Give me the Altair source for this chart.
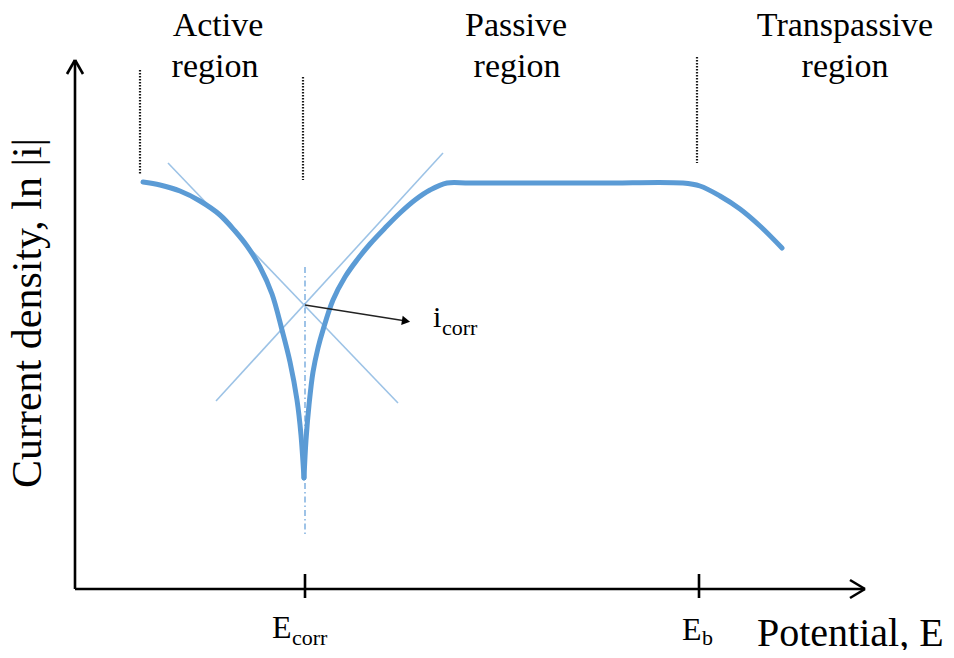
import altair as alt
import pandas as pd

# ---- data (x: potential offset from the axis origin, y: ln|i| offset) ----
cath_E = [68, 85, 105, 125, 145, 160, 172, 185, 197, 207, 215, 222, 226, 229]
cath_I = [407, 404, 398, 388, 374, 358, 343, 322, 295, 259, 227, 189, 154, 111]
anod_E = [229, 231, 234, 238, 243, 248, 258, 270, 282, 295, 310, 325, 340, 355, 372, 395,
          525, 608, 625, 645, 665, 685, 707]
anod_I = [111, 149, 184, 217, 241, 259, 289, 312, 329, 345, 361, 376, 389, 399, 406, 406,
          406, 406, 403, 393, 380, 363, 341]

# Tafel tangent lines
tafel_x1 = [93, 141]
tafel_y1 = [426, 188]
tafel_x2 = [323, 368]
tafel_y2 = [186, 436]

# Ecorr dash-dot guide
guide_x = [230]
guide_y1 = [322]
guide_y2 = [52]

# dotted region separators
sep_x = [65, 228, 622]
sep_y1 = [519, 512, 532]
sep_y2 = [414, 409, 426]

# axes, arrowheads, ticks
ax_x1 = [0, -8, 8, 0, 775, 775, 230, 624]
ax_y1 = [0, 515, 515, 0, 9, -9, 15, 15]
ax_x2 = [0, 0, 0, 790, 790, 790, 230, 624]
ax_y2 = [529, 529, 529, 0, 0, 0, -9, -9]

# icorr pointer
ptr_x1 = [230]
ptr_y1 = [284]
ptr_x2 = [331]
ptr_y2 = [268]

# texts
region_text = ["Active", "region", "Passive", "region", "Transpassive", "region"]
region_x = [143, 140, 441, 442, 770, 770]
region_y = [553, 512, 553, 512, 553, 512]

lab_text = ["E", "corr", "E", "b", "Potential, E", "i", "corr"]
lab_x = [197, 217, 607, 627, 682, 358, 367]
lab_y = [-49, -56, -51, -56, -57, 262, 254]
lab_size = [32, 22, 32, 22, 40, 30, 22]

ylab_text = ["Current density, ln |i|"]
ylab_x = [-47]
ylab_y = [276]

XS = alt.Scale(domain=[-67, 871], nice=False, zero=False)
YS = alt.Scale(domain=[-61, 581], nice=False, zero=False)
FONT = "Liberation Serif"

curve = pd.DataFrame(
    {"E": cath_E + anod_E,
     "I": cath_I + anod_I,
     "branch": ["cathodic"] * len(cath_E) + ["anodic"] * len(anod_E),
     "order": list(range(len(cath_E))) + list(range(len(anod_E)))}
)

def seg_df(x1, y1, x2, y2):
    return pd.DataFrame({"x": x1, "y": y1, "x2": x2, "y2": y2})

def seg_layer(df, color, width, dash=None):
    kw = dict(color=color, strokeWidth=width)
    if dash:
        kw["strokeDash"] = dash
    return alt.Chart(df).mark_rule(**kw).encode(
        x=alt.X("x:Q", scale=XS, axis=None),
        y=alt.Y("y:Q", scale=YS, axis=None),
        x2="x2:Q",
        y2="y2:Q",
    )

tafel = seg_layer(seg_df(tafel_x1, tafel_y1, tafel_x2, tafel_y2), "#9dc3e6", 1.6)
guide = seg_layer(seg_df(guide_x, guide_y1, guide_x, guide_y2), "#7fb0df", 1.5, [6, 3, 1.5, 3])
seps = seg_layer(seg_df(sep_x, sep_y1, sep_x, sep_y2), "#1a1a1a", 2.2, [1.6, 1.4])
axes = seg_layer(seg_df(ax_x1, ax_y1, ax_x2, ax_y2), "black", 2.6)
pointer = seg_layer(seg_df(ptr_x1, ptr_y1, ptr_x2, ptr_y2), "#222222", 1.3)

head = alt.Chart(pd.DataFrame({"x": ptr_x2, "y": ptr_y2})).mark_point(
    shape="triangle-right", filled=True, color="black", size=90, angle=9, opacity=1
).encode(x=alt.X("x:Q", scale=XS, axis=None), y=alt.Y("y:Q", scale=YS, axis=None))

line = alt.Chart(curve).mark_line(
    color="#5b9bd5", strokeWidth=5, interpolate="catmull-rom", strokeCap="round"
).encode(
    x=alt.X("E:Q", scale=XS, axis=None),
    y=alt.Y("I:Q", scale=YS, axis=None),
    detail="branch:N",
    order="order:Q",
)

regions = alt.Chart(pd.DataFrame({"x": region_x, "y": region_y, "t": region_text})).mark_text(
    font=FONT, fontSize=34, align="center", baseline="alphabetic", color="black"
).encode(x=alt.X("x:Q", scale=XS, axis=None), y=alt.Y("y:Q", scale=YS, axis=None), text="t:N")

labels = alt.Chart(pd.DataFrame({"x": lab_x, "y": lab_y, "t": lab_text, "s": lab_size})).mark_text(
    font=FONT, align="left", baseline="alphabetic", color="black"
).encode(
    x=alt.X("x:Q", scale=XS, axis=None),
    y=alt.Y("y:Q", scale=YS, axis=None),
    text="t:N",
    size=alt.Size("s:Q", scale=None, legend=None),
)

ylab = alt.Chart(pd.DataFrame({"x": ylab_x, "y": ylab_y, "t": ylab_text})).mark_text(
    font=FONT, fontSize=42, align="center", baseline="middle", angle=270, color="black"
).encode(x=alt.X("x:Q", scale=XS, axis=None), y=alt.Y("y:Q", scale=YS, axis=None), text="t:N")

chart = alt.layer(
    tafel, guide, seps, line, pointer, head, axes, regions, labels, ylab
).properties(
    width=938, height=642, padding=0, autosize=alt.AutoSizeParams(type="none"),
    background="white",
).configure_view(stroke=None)

chart.save("out.html", embed_options={"renderer": "svg", "actions": False})
